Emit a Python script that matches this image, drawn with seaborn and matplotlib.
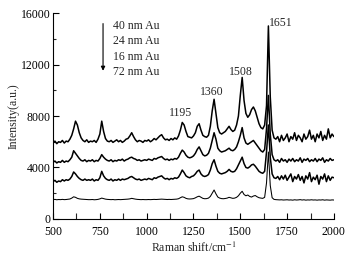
import numpy as np
import pandas as pd
import matplotlib
matplotlib.use("Agg")
import matplotlib.pyplot as plt
from matplotlib.ticker import MultipleLocator
import seaborn as sns

# Raman shift grid (cm^-1), one sample every 10 cm^-1
shift = np.arange(500, 2001, 10)

# spectra (a.u.)
au40 = [5900, 6050, 5850, 6000, 5950, 6100, 5900, 6050, 6000, 6200,
        6500, 7000, 7600, 7300, 6700, 6300, 6100, 6000, 6150, 5950,
        6050, 6000, 6100, 5950, 6200, 6600, 7600, 6800, 6250, 6050,
        6000, 6100, 5950, 6050, 6150, 6000, 6100, 5950, 6050, 6200,
        6250, 6450, 6700, 6400, 6150, 6000, 6100, 6050, 5950, 6100,
        6050, 6150, 6000, 6100, 6250, 6150, 6300, 6450, 6550, 6300,
        6150, 6200, 6100, 6250, 6150, 6300, 6200, 6450, 6900, 7500,
        7300, 6800, 6400, 6350, 6300, 6450, 6700, 7200, 7400, 6900,
        6500, 6400, 6350, 6500, 7200, 8400, 9300, 8200, 7100, 6700,
        6600, 6700, 6800, 7000, 7200, 6950, 6800, 6900, 7300, 8000,
        9600, 11000, 9200, 8200, 7900, 8100, 8500, 8700, 8400, 7900,
        7400, 7100, 7000, 7300, 8800, 15000, 9500, 6900, 6300, 6200,
        6400, 6000, 6500, 6100, 6300, 6600, 6000, 6400, 6200, 6700,
        6100, 6500, 6300, 6000, 6600, 6200, 6400, 6900, 6200, 6500,
        6000, 6600, 6300, 6800, 6100, 6500, 6200, 7000, 6300, 6600,
        6400]
au24 = [4400, 4500, 4350, 4450, 4400, 4550, 4400, 4500, 4450, 4600,
        4800, 5300, 5100, 4900, 4700, 4550, 4500, 4600, 4450, 4550,
        4500, 4600, 4450, 4550, 4500, 4700, 5000, 4800, 4650, 4550,
        4500, 4600, 4450, 4550, 4500, 4600, 4550, 4650, 4500, 4600,
        4650, 4750, 4800, 4700, 4650, 4550, 4600, 4500, 4550, 4600,
        4550, 4650, 4600, 4550, 4700, 4650, 4750, 4800, 4850, 4700,
        4600, 4650, 4550, 4650, 4600, 4700, 4650, 4800, 5100, 5350,
        5200, 4950, 4800, 4750, 4800, 4900, 5100, 5400, 5600, 5300,
        5000, 4900, 4950, 5100, 5500, 6100, 6700, 6200, 5500, 5300,
        5200, 5250, 5300, 5400, 5500, 5350, 5300, 5400, 5600, 6000,
        6500, 7100, 6300, 5900, 5800, 5900, 6000, 6100, 5900, 5700,
        5500, 5300, 5200, 5400, 7000, 9600, 6600, 5000, 4600, 4500,
        4600, 4400, 4700, 4500, 4600, 4400, 4650, 4500, 4700, 4450,
        4600, 4500, 4750, 4400, 4650, 4550, 4700, 4450, 4600, 4500,
        4700, 4450, 4650, 4550, 4750, 4400, 4600, 4500, 4700, 4550,
        4600]
au16 = [2900, 3000, 2850, 2950, 2900, 3050, 2950, 3050, 3000, 3100,
        3300, 3650, 3500, 3300, 3150, 3050, 3000, 3100, 3000, 3050,
        3000, 3100, 2950, 3050, 3000, 3200, 3700, 3350, 3150, 3050,
        3000, 3100, 2950, 3050, 3000, 3100, 3000, 3100, 3050, 3100,
        3150, 3250, 3300, 3200, 3100, 3050, 3100, 3000, 3050, 3100,
        3050, 3150, 3100, 3050, 3200, 3150, 3250, 3300, 3350, 3200,
        3100, 3150, 3050, 3150, 3100, 3200, 3150, 3250, 3500, 3800,
        3600, 3350, 3250, 3200, 3300, 3350, 3500, 3700, 3800, 3500,
        3350, 3300, 3350, 3450, 3800, 4300, 4600, 4100, 3700, 3550,
        3500, 3550, 3600, 3700, 3850, 3700, 3650, 3700, 3900, 4200,
        4500, 4800, 4300, 4000, 3950, 4050, 4200, 4250, 4100, 3900,
        3700, 3600, 3550, 3700, 5200, 7300, 4800, 3500, 3200, 3150,
        3300, 3050, 3350, 3100, 3400, 3000, 3250, 3500, 2900, 3300,
        3100, 3450, 3000, 3300, 2800, 3350, 3100, 3600, 2900, 3250,
        3050, 3400, 2700, 3300, 3100, 3500, 2900, 3350, 3000, 3250,
        3200]
au72 = [1500, 1520, 1490, 1510, 1500, 1520, 1500, 1510, 1530, 1550,
        1620, 1720, 1680, 1600, 1560, 1540, 1530, 1520, 1510, 1500,
        1500, 1510, 1490, 1500, 1520, 1560, 1620, 1580, 1540, 1520,
        1510, 1500, 1510, 1490, 1500, 1510, 1500, 1510, 1520, 1530,
        1540, 1560, 1600, 1570, 1540, 1520, 1510, 1500, 1510, 1500,
        1500, 1510, 1500, 1510, 1520, 1510, 1520, 1530, 1540, 1530,
        1520, 1510, 1520, 1510, 1520, 1530, 1540, 1570, 1650, 1720,
        1680, 1600, 1560, 1550, 1560, 1580, 1640, 1720, 1770, 1680,
        1600, 1570, 1580, 1620, 1750, 2000, 2250, 1950, 1700, 1620,
        1580, 1570, 1590, 1620, 1680, 1640, 1600, 1620, 1680, 1800,
        2000, 2150, 1900, 1800, 1860, 1750, 1700, 1780, 1820, 1720,
        1650, 1620, 1600, 1680, 2800, 5200, 2600, 1650, 1520, 1500,
        1490, 1480, 1490, 1470, 1480, 1490, 1470, 1480, 1460, 1490,
        1470, 1480, 1500, 1470, 1490, 1460, 1480, 1470, 1490, 1470,
        1480, 1460, 1480, 1470, 1490, 1460, 1480, 1470, 1460, 1480,
        1470]

legend_labels = ["40 nm Au", "24 nm Au", "16 nm Au", "72 nm Au"]
peak_pos = [1195, 1360, 1508, 1651]
peak_lab_x = [1180, 1349, 1504, 1655]
peak_lab_y = [8240, 9870, 11420, 15230]

df = pd.DataFrame({
    "shift": np.tile(shift, 4),
    "intensity": np.concatenate([au40, au24, au16, au72]),
    "sample": np.repeat(legend_labels, len(shift)),
})

sns.set_style("ticks")
plt.rcParams["font.family"] = ["Liberation Serif", "DejaVu Serif"]
plt.rcParams["mathtext.fontset"] = "stix"

fig = plt.figure(figsize=(3.56, 2.67), dpi=100)
ax = fig.add_axes([0.149, 0.180, 0.789, 0.771])

for lab in legend_labels:
    sub = df[df["sample"] == lab]
    lw = 0.75 if lab == "72 nm Au" else 1.1
    sns.lineplot(data=sub, x="shift", y="intensity", color="black",
                 linewidth=lw, ax=ax, legend=False)

ax.set_xlim(500, 2000)
ax.set_ylim(0, 16000)
ax.xaxis.set_major_locator(MultipleLocator(250))
ax.xaxis.set_minor_locator(MultipleLocator(125))
ax.yaxis.set_major_locator(MultipleLocator(4000))
ax.yaxis.set_minor_locator(MultipleLocator(2000))
ax.tick_params(which="major", direction="in", length=4, width=0.8,
               labelsize=8.5, pad=2, color="black", labelcolor="black")
ax.tick_params(axis="x", which="major", pad=5)
ax.tick_params(axis="y", which="minor", direction="in", length=2.5, width=0.8)
ax.tick_params(axis="x", which="minor", direction="in", length=4, width=0.8)
sns.despine(ax=ax)
for s in ["left", "bottom"]:
    ax.spines[s].set_linewidth(0.8)
    ax.spines[s].set_color("black")

ax.set_xlabel("Raman shift/cm$^{-1}$", fontsize=8.5, labelpad=2)
ax.set_ylabel("Intensity(a.u.)", fontsize=8.5, labelpad=1)

# sample legend with arrow
for i, lab in enumerate(legend_labels):
    ax.text(820, 15000 - i * 1190, lab, fontsize=8.5, va="center", ha="left")
ax.annotate("", xy=(767, 11300), xytext=(767, 15400),
            arrowprops=dict(arrowstyle="-|>", color="black", lw=0.8,
                            mutation_scale=6))

# peak labels
for p, lx, ly in zip(peak_pos, peak_lab_x, peak_lab_y):
    ha = "left" if p == 1651 else "center"
    ax.text(lx, ly, str(p), fontsize=8.5, ha=ha, va="center")

fig.savefig("out.png", dpi=100)
